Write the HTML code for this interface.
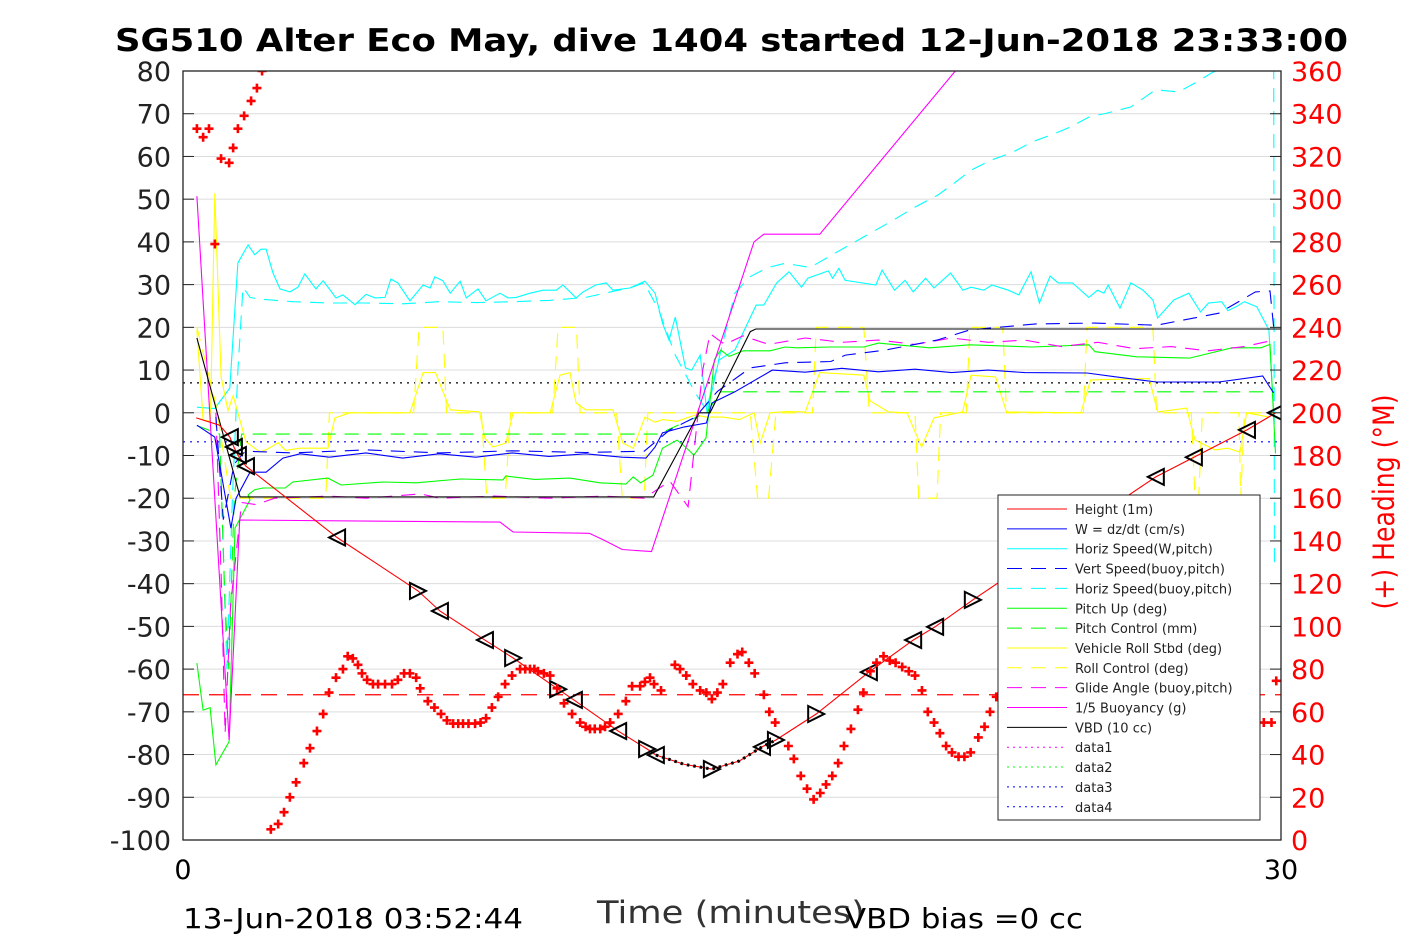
<!DOCTYPE html>
<html><head><meta charset="utf-8"><style>
body{margin:0;background:#fff;}
svg{display:block;font-family:"DejaVu Sans","Liberation Sans",sans-serif;}
</style></head><body>
<svg id="chart" width="1417" height="945" viewBox="0 0 1417 945">
<text x="115" y="51" textLength="1233" lengthAdjust="spacingAndGlyphs" font-size="31" font-weight="bold">SG510 Alter Eco May, dive 1404 started 12-Jun-2018 23:33:00</text>
<g id="grid"></g>
<g id="plot"></g>
<g id="axes"></g>
<text x="1394" y="502" transform="rotate(-90 1394 502)" text-anchor="middle" textLength="215" lengthAdjust="spacingAndGlyphs" font-size="29" fill="#f00">(+) Heading (°M)</text>
<text x="183" y="879" text-anchor="middle" font-size="27">0</text>
<text x="1281" y="879" text-anchor="middle" font-size="27">30</text>
<text x="597" y="923" textLength="268" lengthAdjust="spacingAndGlyphs" font-size="31" fill="#333">Time (minutes)</text>
<text x="183" y="928" textLength="340" lengthAdjust="spacingAndGlyphs" font-size="28">13-Jun-2018 03:52:44</text>
<text x="845" y="928" textLength="238" lengthAdjust="spacingAndGlyphs" font-size="28">VBD bias =0 cc</text>
<g id="legend"></g>
</svg>
<script>
const leftTicks=[80,70,60,50,40,30,20,10,0,-10,-20,-30,-40,-50,-60,-70,-80,-90,-100];
const rightTicks=[360,340,320,300,280,260,240,220,200,180,160,140,120,100,80,60,40,20,0];
const heightData=[[0.36,-1.2],[1.0,-2.9],[1.28,-5.7],[1.39,-8.0],[1.5,-9.9],[1.72,-12.5],[4.21,-29.2],[6.42,-41.7],[7.02,-46.4],[8.25,-53.2],[9.02,-57.4],[10.25,-64.7],[10.68,-67.2],[11.89,-74.5],[12.68,-78.7],[12.92,-80.1],[13.7,-82.3],[14.45,-83.4],[15.2,-81.5],[15.82,-78.2],[16.2,-76.6],[17.3,-70.5],[18.74,-60.7],[19.95,-53.2],[20.55,-50.1],[21.58,-43.8],[26.58,-15.0],[27.62,-10.4],[29.07,-4.0],[29.86,0]];
const markerT=[1.28,1.39,1.5,1.72,4.21,6.42,7.02,8.25,9.02,10.25,10.68,11.89,12.68,12.92,14.45,15.82,16.2,17.3,18.74,19.95,20.55,21.58,26.58,27.62,29.07,29.86];
const markerV=[-5.7,-8.0,-9.9,-12.5,-29.2,-41.7,-46.4,-53.2,-57.4,-64.7,-67.2,-74.5,-78.7,-80.1,-83.4,-78.2,-76.6,-70.5,-60.7,-53.2,-50.1,-43.8,-15.0,-10.4,-4.0,0];
const markerDir=['L','L','L','L','L','R','L','L','R','R','L','L','R','L','R','L','R','R','L','L','L','R','L','L','L','L'];
const buoyData=[[0.38,50.7],[1.26,-76.6],[1.55,-25.1],[8.66,-25.6],[9.02,-27.9],[11.1,-28.2],[11.5,-29.8],[12.0,-32],[12.8,-32.5],[15.6,40],[15.87,41.8],[17.4,41.8],[21.1,80],[22,87]];
const glideData=[[0.9,0],[1.05,-40],[1.15,-75],[1.3,-45],[1.6,-21],[2.0,-21.5],[2.5,-20],[4,-19.5],[5,-20],[6.5,-19],[7,-20],[8.5,-19.5],[10,-20],[11.5,-19.5],[12.6,-20],[13.3,-16],[13.8,-22],[14.2,10],[14.4,18.5],[14.8,16],[15.3,18],[16,16],[17,17.5],[18,16.5],[19,17],[20,16],[21,17.5],[22,16.5],[23,17],[24,15.5],[25,16.5],[26,15],[27,15.5],[28,14.5],[29,15.5],[29.8,17]];
const wData=[[0.38,-2.9],[0.87,-5.7],[1.31,-27],[1.45,-20],[1.83,-13.9],[2.27,-13.9],[2.73,-10.6],[3.2,-9.6],[4,-10.4],[5,-9.4],[6,-10.6],[7,-9.6],[8,-10.4],[9,-9.4],[10,-10.2],[11,-9.6],[12,-10.4],[12.65,-10.6],[12.9,-8],[13.1,-4.7],[13.7,-3.3],[14.3,-2.4],[14.45,2.3],[15.08,4.9],[16.1,10],[17,9.5],[18,10.4],[19,9.6],[20,10.2],[21,9.4],[22,10],[23,9.4],[24.7,9.3],[25.5,8.4],[26.6,7.2],[28.3,7.2],[29.5,8.6],[29.8,4.6]];
const vertBuoyData=[[0.9,-1],[1.1,-25],[1.4,-12],[1.7,-9],[3,-9.4],[5,-8.7],[7,-9.4],[9,-8.9],[11,-9.3],[12.6,-9],[13.3,-4],[14,-1],[14.6,5],[15.5,10.5],[16.45,11.7],[17.7,12],[18.1,13.5],[19.2,14.7],[20.6,17],[21.5,19.4],[23.3,20.8],[24.9,21],[26.6,20.5],[28.3,23.3],[29.3,28.3],[29.7,28.5],[29.8,20]];
const hSpeedData=[[0.38,1.3],[0.87,1.0],[1.28,5.8],[1.5,35.1],[1.78,39.3],[1.96,37],[2.13,38.3],[2.27,38.3],[2.46,32.7],[2.65,29],[2.92,28.3],[3.14,29.4],[3.33,32.5],[3.63,29],[3.83,30.9],[4.18,26.9],[4.37,27.6],[4.7,25.3],[5.0,27.7],[5.25,26.9],[5.52,27],[5.68,31.3],[5.87,30.4],[6.2,26.2],[6.56,29.9],[6.75,29.2],[6.88,31.8],[7.1,30.9],[7.3,28],[7.57,30.8],[7.74,26.9],[8.06,29],[8.28,26.2],[8.66,28],[8.88,26.9],[9.1,27],[9.48,28],[9.84,28.7],[10.2,28.7],[10.38,29.9],[10.74,26.9],[10.93,28.3],[11.28,29.9],[11.56,30.4],[11.75,28.7],[12.21,29.2],[12.62,30.8],[12.9,28],[13.1,21],[13.28,17],[13.45,22.4],[13.73,10.5],[13.9,10],[14.13,13.5],[14.32,0],[14.64,12.3],[15.08,14.7],[15.66,25.2],[15.87,25.2],[16.22,30.4],[16.56,33],[16.9,29.4],[17.07,31.5],[17.46,32.7],[17.63,33.2],[17.75,31.5],[17.92,33.8],[18.09,31],[18.93,29.9],[19.1,33.4],[19.44,28.7],[19.73,31],[19.95,28.3],[20.29,31.5],[20.52,29.2],[20.97,32.7],[21.31,28.7],[21.53,29.4],[21.88,28.7],[22.1,29.9],[22.55,28.7],[22.84,27.6],[23.17,33],[23.4,25.7],[23.69,32],[23.91,30.4],[24.3,30.4],[24.75,27],[24.99,28.7],[25.16,28],[25.28,29.9],[25.6,24.5],[25.9,30.4],[26.23,28.7],[26.5,26.4],[26.63,22.2],[27.07,26.4],[27.48,28],[27.8,23.6],[28.02,25.7],[28.38,26],[28.55,23.9],[28.77,24.8],[29.0,26],[29.34,24.8],[29.67,19.4],[29.8,0]];
const hBuoyData=[[1.0,-5],[1.2,-60],[1.35,-20],[1.5,10],[1.64,29.4],[1.83,27],[2.1,26.6],[3,26],[4,25.7],[5,25.7],[6,25.5],[7,26],[8,25.8],[9,26],[10,26.3],[11,27],[11.8,28.5],[12.2,29.2],[12.6,30.4],[13.0,24],[13.45,13.5],[14,4.6],[14.3,0.6],[15.08,28],[15.48,31.8],[15.98,34],[16.45,35],[17.13,34],[17.46,35.6],[17.8,37.3],[18.36,40],[18.83,42.3],[19.39,45],[19.95,47.9],[20.63,51],[21.08,53.8],[21.53,56.8],[22.1,59.2],[22.67,61],[23.2,63.4],[23.8,65.3],[24.25,66.9],[24.75,69.2],[25.27,70.2],[25.9,71.6],[26.57,75.6],[27.2,75.1],[27.65,77.2],[28.15,79.8],[28.6,80.5],[29.3,83],[29.8,85],[29.82,-35]];
const pitchData=[[0.38,-58.6],[0.55,-69.6],[0.74,-69],[0.9,-82.4],[1.26,-77],[1.42,-27],[1.83,-20.4],[1.78,-19.2],[1.96,-18],[2.18,-17.6],[2.79,-17.6],[3.0,-16.2],[3.96,-15.3],[4.32,-16.9],[5.46,-16.2],[6.37,-16.4],[7.57,-15.5],[8.74,-15.7],[8.82,-14.8],[9.6,-15.6],[10.57,-15.3],[11.39,-16.4],[12.1,-16.7],[12.3,-15],[12.5,-16.4],[12.84,-14.6],[13.1,-8.3],[13.5,-6.4],[13.73,-8],[13.96,-9.9],[14.29,-5.9],[14.52,12.4],[14.69,14.7],[14.92,13.2],[15.31,14.5],[16.04,14.5],[16.45,15.4],[16.76,15.2],[17.68,15.4],[18.6,15.4],[19.0,16.3],[20.4,15.2],[21.5,15.9],[23.2,15.4],[24.75,15.9],[24.92,14.3],[26.06,13.1],[27.5,12.8],[28.66,15.2],[29.45,15.2],[29.7,16],[29.85,-9.5]];
const pitchCtlData=[[0.38,-3],[1.0,-5],[1.15,-45],[1.25,-60],[1.4,-20],[1.6,-5],[13,-5],[13.5,-3],[14.3,0],[14.7,4.9],[29.8,4.9]];
const rollData=[[0.38,19.4],[0.55,-1.7],[0.75,-2],[0.87,51.4],[1.04,8.4],[1.23,0.5],[1.37,4],[1.72,-6.8],[2.1,-9.2],[2.3,-8.5],[2.6,-7],[2.8,-8.8],[3.2,-8.3],[3.96,-8.3],[4.15,-1.2],[4.56,0],[6.2,0],[6.56,9.4],[6.9,9.4],[7.3,0.7],[8.1,0.2],[8.25,-6],[8.47,-8],[8.82,-7.1],[9.02,0],[10.03,0],[10.3,8.8],[10.57,9.4],[10.74,2.3],[11.0,0.7],[11.75,0.7],[12.02,-7.1],[12.3,-8.3],[12.62,-1],[12.9,-2.2],[13.1,-1.6],[13.5,-2],[14.0,-0.5],[14.29,-1],[14.75,-1],[15.2,-1.6],[15.6,0],[15.77,-7.1],[16.04,0],[16.5,0.3],[17.0,0.2],[17.4,9.4],[18.6,8.8],[18.77,2.8],[19.27,0.2],[19.78,0],[20.18,-8],[20.52,-1.2],[21.3,0.2],[21.53,8.8],[22.2,8.4],[22.5,0.2],[24.53,0],[24.8,7.7],[26.4,8],[26.63,0.2],[27.42,1.1],[27.65,-6.4],[28.2,-8.7],[28.55,-8.3],[28.88,-9.2],[29.06,0],[29.67,-1]];
const rollCtlData=[[0.38,20],[0.9,2],[1.3,-20],[3.9,-20],[4.0,0],[6.3,0],[6.45,20],[7.1,20],[7.2,0],[8.15,0],[8.3,-20],[8.8,-20],[8.95,0],[10.1,0],[10.25,20],[10.75,20],[10.85,0],[11.85,0],[12.0,-20],[12.6,-20],[12.7,0],[15.5,0],[15.7,-20],[16.0,-20],[16.2,0],[17.2,0],[17.3,20],[18.6,20],[18.75,0],[20.0,0],[20.1,-20],[20.6,-20],[20.7,0],[21.4,0],[21.5,20],[22.4,20],[22.5,0],[24.6,0],[24.7,20],[26.5,20],[26.6,0],[27.55,0],[27.65,-20],[27.75,-20],[27.85,0],[28.85,0],[28.9,-20],[29.0,0],[29.8,0]];
const vbdData=[[0.38,17.5],[1.56,-19.7],[12.86,-19.7],[14.1,0],[14.4,0],[15.5,19],[15.65,19.6],[30,19.6]];
const headingT=[0.38,0.55,0.71,0.87,1.04,1.26,1.37,1.5,1.67,1.86,2.02,2.16,2.4,2.6,2.76,2.92,3.09,3.3,3.47,3.66,3.83,3.99,4.18,4.37,4.5,4.64,4.78,4.89,5.03,5.19,5.33,5.52,5.71,5.87,6.04,6.2,6.37,6.48,6.69,6.87,7.05,7.21,7.38,7.52,7.65,7.8,7.98,8.13,8.28,8.44,8.61,8.8,8.99,9.21,9.35,9.48,9.6,9.7,9.86,10.03,10.22,10.41,10.63,10.85,11.0,11.12,11.25,11.4,11.53,11.67,11.89,12.1,12.27,12.49,12.62,12.76,12.87,13.06,13.44,13.58,13.75,13.93,14.13,14.3,14.45,14.6,14.75,14.95,15.15,15.28,15.46,15.62,15.87,16.02,16.18,16.54,16.69,16.88,17.05,17.23,17.41,17.57,17.74,17.9,18.06,18.25,18.44,18.59,18.78,18.95,19.14,19.31,19.47,19.65,19.83,20.0,20.19,20.35,20.52,20.68,20.85,21.01,21.19,21.35,21.52,21.73,21.9,22.05,22.22,29.53,29.74,29.87];
const headingV=[333,329,333,279,319,317,324,333,339,346,352,360,5,7.5,13,20,27,36,43,51,59,69,76,80,86,85,82,78,75,73,73,73,73,75,78,78,76,71,65,62,59,56,54.5,54.5,54.5,54.5,54.5,55,57,62,67,73,77,80,80,80,80,79,78,77,71,64,59,55,53,52,52,52,53,55,59,65,72,72,74,76,73,70,82,80,77,73,70,69,66,69,73,83,87,88,83,78,68,60,55,44,38,30,24,19,22,26,30,36,44,52,61,69,79,83,86,84,83,81,79,77,70,60,55,50,44,41,39,39,41,48,53,60,67,55,55,74.5];
const ref1=7, ref2=-6.8, headingRef=-66;

const X0=183,X1=1281,Y0=71,Y1=840;
const xs=t=>X0+t*(X1-X0)/30;
const ys=v=>Y0+(80-v)*(Y1-Y0)/180;
const yr=h=>Y1-h*(Y1-Y0)/360;
const NS='http://www.w3.org/2000/svg';
function mk(tag,attrs,parent){const e=document.createElementNS(NS,tag);for(const k in attrs)e.setAttribute(k,attrs[k]);parent.appendChild(e);return e;}
const svg=document.getElementById('chart');
const grid=document.getElementById('grid'),plot=document.getElementById('plot'),axes=document.getElementById('axes'),legend=document.getElementById('legend');
const cp=mk('clipPath',{id:'clip'},svg);
mk('rect',{x:X0,y:Y0,width:X1-X0,height:Y1-Y0},cp);
plot.setAttribute('clip-path','url(#clip)');
leftTicks.forEach(v=>{
  const y=ys(v);
  if(v!==80&&v!==-100){const g=mk('line',{x1:X0,x2:X1,y1:y,y2:y,stroke:'#dcdcdc','stroke-width':1},grid);
  
  }
  const tk=mk('line',{x1:X0,x2:X0+11,y1:y,y2:y,stroke:'#222','stroke-width':1},axes);
  
  
  const t=mk('text',{x:X0-12,y:y+10,'text-anchor':'end','font-size':27,fill:'#222'},axes);t.textContent=v;
  
  
});
rightTicks.forEach(h=>{
  const y=yr(h);
  const tk=mk('line',{x1:X1-11,x2:X1,y1:y,y2:y,stroke:'#222','stroke-width':1},axes);
  
  
  const t=mk('text',{x:X1+10,y:y+10,'font-size':27,fill:'#f00'},axes);t.textContent=h;
  
  
});
const frame=mk('rect',{x:X0,y:Y0,width:X1-X0,height:Y1-Y0,fill:'none',stroke:'#222','stroke-width':1.3},axes);



function line(data,color,dash,name,w){
  const d=data.map((p,i)=>(i?'L':'M')+xs(p[0]).toFixed(1)+','+ys(p[1]).toFixed(1)).join('');
  const e=mk('path',{d:d,fill:'none',stroke:color,'stroke-width':w||1.1},plot);
  if(dash)e.setAttribute('stroke-dasharray',dash);
  
  
  return e;
}
function hline(v,color,dash,name){
  const e=mk('line',{x1:X0,x2:X1,y1:ys(v),y2:ys(v),stroke:color,'stroke-width':1.2,'stroke-dasharray':dash},plot);
  
  
}
hline(ref1,'#000','2,5','reference-line-data1');
hline(ref2,'#00f','2,5','reference-line-data4');
hline(headingRef,'#f00','16,10','heading-reference-line');
const DASH='14,9';
line(hBuoyData,'#0ff',DASH,'horiz-speed-buoy-line');
line(hSpeedData,'#0ff',null,'horiz-speed-pitch-line');
line(rollCtlData,'#ff0',DASH,'roll-control-line');
line(rollData,'#ff0',null,'vehicle-roll-line');
line(pitchCtlData,'#0f0',DASH,'pitch-control-line');
line(pitchData,'#0f0',null,'pitch-up-line');
line(glideData,'#f0f',DASH,'glide-angle-line');
line(buoyData,'#f0f',null,'buoyancy-line');
line(vertBuoyData,'#00f',DASH,'vert-speed-buoy-line');
line(wData,'#00f',null,'w-line');
line(vbdData,'#000',null,'vbd-line');
line(heightData,'#f00',null,'height-line');
line(heightData.filter(p=>p[0]>=12.9&&p[0]<=16.2),'#000','2.5,4','bottom-dotted-line',3);
markerT.forEach((t,i)=>{
  const x=xs(t),y=ys(markerV[i]),s=8;
  const pts=markerDir[i]==='R'?`${x-s},${y-s} ${x+s},${y} ${x-s},${y+s}`:`${x+s},${y-s} ${x-s},${y} ${x+s},${y+s}`;
  const e=mk('polygon',{points:pts,fill:'none',stroke:'#000','stroke-width':2},plot);
  
  
});
headingT.forEach((t,i)=>{
  const x=xs(t),y=yr(headingV[i]);
  const e=mk('path',{d:`M${x-4.5},${y}H${x+4.5}M${x},${y-4.5}V${y+4.5}`,stroke:'#f00','stroke-width':2.6},plot);
  
  
});
const legendLabels=['Height (1m)','W = dz/dt (cm/s)','Horiz Speed(W,pitch)','Vert Speed(buoy,pitch)','Horiz Speed(buoy,pitch)','Pitch Up (deg)','Pitch Control (mm)','Vehicle Roll Stbd (deg)','Roll Control (deg)','Glide Angle (buoy,pitch)','1/5 Buoyancy (g)','VBD (10 cc)','data1','data2','data3','data4'];
const legendColors=['#f00','#00f','#0ff','#00f','#0ff','#0f0','#0f0','#ff0','#ff0','#f0f','#f0f','#000','#f0f','#0f0','#00f','#00f'];
const legendStyles=['s','s','s','d','d','s','d','s','d','d','s','s','o','o','o','o'];
const lb=mk('rect',{x:998,y:495,width:262,height:325,fill:'#fff',stroke:'#222','stroke-width':1},legend);


legendLabels.forEach((lab,i)=>{
  const y=509+i*19.85;
  const g=mk('g',{},legend);
  
  
  const l=mk('line',{x1:1007,x2:1067,y1:y,y2:y,stroke:legendColors[i],'stroke-width':1},g);
  if(legendStyles[i]==='d')l.setAttribute('stroke-dasharray','15,9');
  if(legendStyles[i]==='o')l.setAttribute('stroke-dasharray','2,4');
  const t=mk('text',{x:1075,y:y+5,'font-size':13,fill:'#222'},g);t.textContent=lab;
});
</script>
</body></html>
